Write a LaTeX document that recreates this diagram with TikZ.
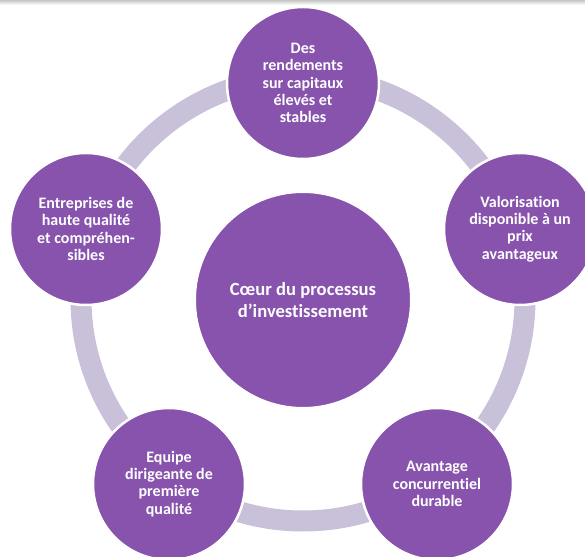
\documentclass[tikz,border=0pt]{standalone}
\usepackage{fontspec}
\setmainfont{Carlito}[Ligatures=NoCommon]
\definecolor{bubble}{HTML}{8753AD}
\definecolor{ringc}{HTML}{C9C0DA}
\tikzset{
  x=1pt, y=1pt,
  outer/.style={circle, fill=bubble, draw=white, line width=2.5pt, minimum size=152pt, inner sep=0pt,
    text=white, align=center, font=\bfseries\fontsize{16}{17.2}\selectfont},
  core/.style={circle, fill=bubble, draw=white, line width=2pt, minimum size=216pt, inner sep=0pt,
    text=white, align=center, font=\bfseries\fontsize{18.6}{21.5}\selectfont},
  ringline/.style={draw=ringc, line width=21pt}
}
\begin{document}
\begin{tikzpicture}
\useasboundingbox (0,0) rectangle (585,556);
\clip (0,0) rectangle (585,556);
\fill[white] (0,0) rectangle (585,556);
\shade[top color=black!22, bottom color=white] (0,551) rectangle (585,556);
\coordinate (c) at (303,257);
\draw[ringline] (c) circle (222);
\node[core] (core) at (303,256) {Cœur du processus\\d’investissement};
\node[outer] (top) at (303,473) {Des\\rendements\\sur capitaux\\élevés et\\stables};
\node[outer] (right) at (520,327) {Valorisation\\disponible à un\\prix\\avantageux};
\node[outer] (br) at (437,72) {Avantage\\concurrentiel\\durable};
\node[outer] (bl) at (169,72) {Equipe\\dirigeante de\\première\\qualité};
\node[outer] (left) at (86,327) {Entreprises de\\haute qualité\\et compréhen-\\sibles};
\end{tikzpicture}
\end{document}
